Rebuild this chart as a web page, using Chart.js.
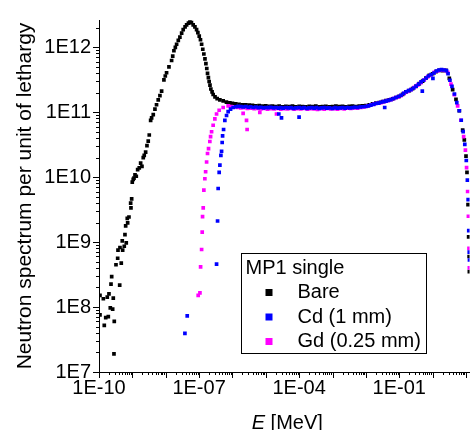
<!DOCTYPE html>
<html>
<head>
<meta charset="utf-8">
<script src="https://cdn.jsdelivr.net/npm/chart.js@4.4.1/dist/chart.umd.min.js"></script>
<style>
  html, body { margin: 0; padding: 0; background: #fff; }
  #chart { display: block; }
</style>
</head>
<body>
<canvas id="chart" width="470" height="430"></canvas>
<script>
// MP1 single - neutron spectrum per unit lethargy
const seriesNames = ['Bare', 'Cd (1 mm)', 'Gd (0.25 mm)'];
const seriesColors = ['#000000', '#0000ff', '#ff00ff'];
const legendTitle = 'MP1 single';

const xTickValues = [1e-10, 1e-7, 1e-4, 1e-1];
const xTickLabels = ['1E-10', '1E-07', '1E-04', '1E-01'];
const yTickValues = [1e7, 1e8, 1e9, 1e10, 1e11, 1e12];
const yTickLabels = ['1E7', '1E8', '1E9', '1E10', '1E11', '1E12'];

const bareE = [
  1.07e-10, 1.07e-10, 1.35e-10, 1.44e-10, 1.59e-10, 1.77e-10, 1.90e-10, 1.99e-10, 2.18e-10, 2.29e-10,
  2.40e-10, 2.57e-10, 2.68e-10, 2.81e-10, 2.87e-10, 3.23e-10, 3.63e-10, 3.71e-10, 4.17e-10, 4.25e-10,
  4.65e-10, 4.98e-10, 5.12e-10, 5.72e-10, 6.0e-10, 6.3e-10, 6.56e-10, 7.03e-10, 7.23e-10, 7.91e-10,
  8.89e-10, 9.08e-10, 9.53e-10, 9.93e-10, 1.06e-9, 1.12e-9, 1.20e-9, 1.31e-9, 1.44e-9, 1.61e-9,
  1.77e-9, 1.94e-9, 2.12e-9, 2.27e-9, 2.50e-9, 2.74e-9, 2.99e-9, 3.21e-9, 3.53e-9, 3.78e-9,
  4.23e-9, 4.75e-9, 5.3e-9, 5.96e-9, 6.7e-9, 7.53e-9, 8.83e-9, 9.7e-9, 1.06e-8, 1.25e-8,
  1.50e-8, 1.62e-8, 1.76e-8, 1.94e-8, 2.12e-8, 2.38e-8, 2.66e-8, 3.0e-8, 3.34e-8, 3.8e-8,
  4.23e-8, 4.8e-8, 5.31e-8, 5.9e-8, 6.65e-8, 7.5e-8, 8.41e-8, 9.2e-8, 1.01e-7, 1.10e-7,
  1.19e-7, 1.29e-7, 1.39e-7, 1.50e-7, 1.60e-7, 1.70e-7, 1.79e-7, 1.90e-7, 2.00e-7, 2.12e-7,
  2.25e-7, 2.45e-7, 2.64e-7, 3.0e-7, 3.48e-7, 4.2e-7, 5.27e-7, 6.6e-7, 8.36e-7,
  1.0e-6, 1.26e-6, 1.58e-6, 2.0e-6, 2.51e-6, 3.16e-6, 3.98e-6, 5.01e-6, 6.31e-6, 7.94e-6,
  1.0e-5, 1.26e-5, 1.58e-5, 2.0e-5, 2.51e-5, 3.16e-5, 3.98e-5, 5.01e-5, 6.31e-5, 7.94e-5,
  1.0e-4, 1.26e-4, 1.58e-4, 2.0e-4, 2.51e-4, 3.16e-4, 3.98e-4, 5.01e-4, 6.31e-4, 7.94e-4,
  1.0e-3, 1.26e-3, 1.58e-3, 2.0e-3, 2.51e-3, 3.16e-3, 3.98e-3, 5.01e-3, 6.31e-3, 7.94e-3,
  1.0e-2, 1.26e-2, 1.58e-2, 2.0e-2, 2.51e-2, 3.16e-2, 3.98e-2, 5.01e-2, 6.31e-2, 7.94e-2,
  0.1, 0.126, 0.158, 0.2, 0.251, 0.316, 0.398, 0.501, 0.631, 0.794,
  1.0, 1.26, 1.58, 2.0, 2.51, 3.16, 3.98, 5.01, 6.31, 7.94,
  8.9, 10.0, 10.7, 11.5, 12.0, 12.4, 12.6
];
const bareFlux = [
  1.51e8, 7.57e7, 1.34e8, 5.23e7, 6.89e7, 1.42e8, 7.13e7, 1.59e8, 9.73e7, 2.25e8,
  2.93e8, 9.3e7, 1.37e8, 1.9e7, 6.0e7, 4.48e8, 5.64e8, 7.51e8, 2.17e8, 8.24e8,
  4.75e8, 1.04e9, 7.51e8, 8.62e8, 1.30e9, 1.78e9, 9.7e8, 2.32e9, 1.97e9, 2.43e9,
  3.98e9, 3.35e9, 4.62e9, 8.39e9, 9.2e9, 9.63e9, 1.08e10, 1.03e10, 1.30e10, 1.39e10,
  1.64e10, 1.46e10, 1.99e10, 2.16e10, 2.42e10, 3.05e10, 3.57e10, 4.45e10, 7.46e10, 8.16e10,
  9.18e10, 1.11e11, 1.3e11, 1.54e11, 1.8e11, 2.10e11, 3.13e11, 3.6e11, 4.04e11, 4.97e11,
  6.24e11, 7.3e11, 8.81e11, 9.9e11, 1.11e12, 1.27e12, 1.43e12, 1.65e12, 1.86e12, 2.05e12,
  2.21e12, 2.35e12, 2.43e12, 2.38e12, 2.21e12, 2.05e12, 1.86e12, 1.68e12, 1.48e12, 1.3e12,
  1.11e12, 9.3e11, 7.85e11, 6.6e11, 5.57e11, 4.7e11, 3.94e11, 3.4e11, 2.96e11, 2.6e11,
  2.27e11, 2.05e11, 1.87e11, 1.72e11, 1.61e11, 1.54e11, 1.49e11, 1.43e11, 1.39e11,
  1.37e11, 1.34e11, 1.32e11, 1.30e11, 1.29e11, 1.28e11, 1.27e11, 1.25e11, 1.26e11, 1.24e11,
  1.25e11, 1.23e11, 1.24e11, 1.22e11, 1.24e11, 1.21e11, 1.23e11, 1.22e11, 1.24e11, 1.21e11,
  1.23e11, 1.22e11, 1.21e11, 1.23e11, 1.22e11, 1.24e11, 1.21e11, 1.22e11, 1.23e11, 1.21e11,
  1.22e11, 1.24e11, 1.22e11, 1.23e11, 1.21e11, 1.23e11, 1.24e11, 1.22e11, 1.24e11, 1.25e11,
  1.26e11, 1.30e11, 1.34e11, 1.38e11, 1.40e11, 1.45e11, 1.50e11, 1.55e11, 1.60e11, 1.68e11,
  1.75e11, 1.88e11, 2.05e11, 2.15e11, 2.30e11, 2.50e11, 2.75e11, 3.0e11, 3.35e11, 3.7e11,
  3.9e11, 4.2e11, 4.4e11, 4.35e11, 4.4e11, 3.3e11, 2.22e11, 1.57e11, 1.05e11, 5.29e10,
  3.74e10, 2.1e10, 1.18e10, 3.76e9, 1.2e9, 6.0e8, 3.5e8
];

const cdE = [
  3.76e-8, 4.41e-8, 3.34e-7, 3.58e-7, 3.73e-7, 4.0e-7, 4.2e-7, 4.5e-7, 4.72e-7, 4.92e-7,
  5.06e-7, 5.42e-7, 5.92e-7, 6.65e-7, 7.43e-7, 8.77e-7, 1.05e-6, 1.25e-6, 1.48e-6, 1.78e-6,
  2.1e-6, 2.5e-6, 3.0e-6, 3.5e-6, 4.2e-6, 5.0e-6, 6.0e-6, 7.1e-6, 8.5e-6, 1.0e-5,
  1.2e-5, 1.4e-5, 1.7e-5, 2.0e-5, 2.45e-5, 2.4e-5, 2.95e-5, 2.8e-5, 3.3e-5, 4.0e-5,
  4.7e-5, 5.6e-5, 6.7e-5, 8.0e-5, 9.93e-5, 1.0e-4, 1.2e-4, 1.4e-4, 1.7e-4, 2.0e-4,
  2.4e-4, 2.8e-4, 3.3e-4, 4.0e-4, 4.7e-4, 5.6e-4, 6.7e-4, 8.0e-4, 1.0e-3, 1.2e-3,
  1.4e-3, 1.7e-3, 2.0e-3, 2.4e-3, 2.8e-3, 3.3e-3, 4.0e-3, 4.7e-3, 5.6e-3, 6.7e-3,
  8.0e-3, 1.0e-2, 1.2e-2, 1.4e-2, 1.7e-2, 2.0e-2, 2.4e-2, 2.8e-2, 3.66e-2, 3.4e-2,
  4.0e-2, 4.7e-2, 5.6e-2, 6.7e-2, 8.0e-2, 9.5e-2, 0.113, 0.135, 0.16, 0.19,
  0.225, 0.27, 0.32, 0.38, 0.45, 0.49, 0.535, 0.64, 0.75, 0.9,
  1.02, 1.1, 1.3, 1.55, 1.85, 2.2, 2.6, 2.9, 3.3, 3.8,
  4.5, 5.3, 6.3, 7.2, 8.2, 9.2, 10.2, 11.0, 11.6, 12.1,
  12.5, 12.7
];
const cdFlux = [
  3.93e7, 7.31e7, 4.59e8, 2.11e9, 6.68e9, 1.18e10, 1.53e10, 2.16e10, 2.5e10, 3.41e10,
  4.3e10, 5.4e10, 7.46e10, 8.87e10, 1.02e11, 1.11e11, 1.18e11, 1.21e11, 1.23e11, 1.22e11,
  1.20e11, 1.22e11, 1.19e11, 1.21e11, 1.18e11, 1.20e11, 1.17e11, 1.19e11, 1.16e11, 1.18e11,
  1.17e11, 1.19e11, 1.16e11, 1.18e11, 9.37e10, 1.15e11, 8.16e10, 1.17e11, 1.15e11, 1.18e11,
  1.16e11, 1.17e11, 1.14e11, 1.16e11, 8.36e10, 1.17e11, 1.15e11, 1.17e11, 1.14e11, 1.16e11,
  1.17e11, 1.15e11, 1.17e11, 1.14e11, 1.16e11, 1.17e11, 1.15e11, 1.16e11, 1.14e11, 1.17e11,
  1.15e11, 1.16e11, 1.17e11, 1.15e11, 1.18e11, 1.16e11, 1.17e11, 1.19e11, 1.18e11, 1.20e11,
  1.21e11, 1.22e11, 1.25e11, 1.28e11, 1.32e11, 1.36e11, 1.38e11, 1.42e11, 1.18e11, 1.45e11,
  1.48e11, 1.52e11, 1.56e11, 1.62e11, 1.68e11, 1.74e11, 1.82e11, 1.95e11, 2.06e11, 2.14e11,
  2.22e11, 2.35e11, 2.52e11, 2.70e11, 2.92e11, 2.1e11, 3.1e11, 3.35e11, 3.6e11, 3.8e11,
  3.3e11, 4.0e11, 4.3e11, 4.45e11, 4.5e11, 4.45e11, 4.35e11, 3.9e11, 3.1e11, 2.5e11,
  1.9e11, 1.4e11, 1.05e11, 7.5e10, 5.0e10, 3.2e10, 1.8e10, 9.0e9, 4.5e9, 1.5e9,
  7.0e8, 5.3e8
];

const gdE = [
  9.4e-8, 1.06e-7, 1.11e-7, 1.19e-7, 1.24e-7, 1.27e-7, 1.33e-7, 1.39e-7, 1.49e-7, 1.57e-7,
  1.68e-7, 1.79e-7, 1.92e-7, 2.10e-7, 2.21e-7, 2.37e-7, 2.64e-7, 2.97e-7, 3.34e-7, 4.0e-7,
  5.27e-7, 7.43e-7, 9.0e-7, 1.12e-6, 1.41e-6, 1.78e-6, 2.09e-6, 2.24e-6, 2.64e-6, 2.75e-6,
  2.82e-6, 3.55e-6, 4.47e-6, 5.62e-6, 6.61e-6, 7.08e-6, 8.91e-6, 1.12e-5, 1.41e-5, 1.78e-5,
  2.09e-5, 2.24e-5, 2.82e-5, 3.55e-5, 4.47e-5, 5.62e-5, 7.08e-5, 8.91e-5, 1.12e-4, 1.41e-4,
  1.78e-4, 2.24e-4, 2.82e-4, 3.55e-4, 4.47e-4, 5.62e-4, 7.08e-4, 8.91e-4, 1.12e-3, 1.41e-3,
  1.78e-3, 2.24e-3, 2.82e-3, 3.55e-3, 4.47e-3, 5.62e-3, 7.08e-3, 8.91e-3, 1.12e-2, 1.41e-2,
  1.78e-2, 2.24e-2, 2.82e-2, 3.55e-2, 4.47e-2, 5.62e-2, 7.08e-2, 8.91e-2, 0.112, 0.141,
  0.178, 0.224, 0.282, 0.355, 0.447, 0.562, 0.708, 0.891, 1.12, 1.41,
  1.78, 2.24, 2.82, 3.55, 4.47, 5.62, 7.08, 8.5, 9.6, 10.4,
  11.2, 11.8, 12.3, 12.6
];
const gdFlux = [
  1.51e8, 1.65e8, 4.14e8, 7.69e8, 1.42e9, 2.46e9, 3.35e9, 6.3e9, 9.44e9, 1.21e10,
  1.71e10, 2.31e10, 2.75e10, 3.53e10, 4.2e10, 4.99e10, 6.28e10, 7.88e10, 9.37e10, 1.07e11,
  1.18e11, 1.25e11, 1.22e11, 1.20e11, 1.18e11, 1.16e11, 9.6e10, 1.17e11, 7.46e10, 5.4e10,
  1.14e11, 1.15e11, 1.13e11, 1.14e11, 9.93e10, 1.12e11, 1.14e11, 1.11e11, 1.13e11, 1.12e11,
  9.37e10, 1.14e11, 1.11e11, 1.13e11, 1.12e11, 1.14e11, 1.11e11, 1.13e11, 1.12e11, 1.14e11,
  1.11e11, 1.13e11, 1.12e11, 1.10e11, 1.13e11, 1.11e11, 1.14e11, 1.12e11, 1.13e11, 1.11e11,
  1.14e11, 1.12e11, 1.15e11, 1.14e11, 1.16e11, 1.15e11, 1.18e11, 1.20e11, 1.24e11, 1.29e11,
  1.33e11, 1.37e11, 1.40e11, 1.45e11, 1.50e11, 1.56e11, 1.63e11, 1.70e11, 1.80e11, 1.95e11,
  2.08e11, 2.22e11, 2.40e11, 2.60e11, 2.85e11, 3.15e11, 3.5e11, 3.75e11, 4.1e11, 4.3e11,
  4.45e11, 4.4e11, 4.1e11, 2.7e11, 1.85e11, 1.25e11, 7.5e10, 4.2e10, 2.6e10, 1.4e10,
  6.0e9, 2.5e9, 8.0e8, 4.0e8
];

const FONT = "'Liberation Sans', Arial, sans-serif";

function toPoints(xs, ys) {
  return xs.map((x, i) => ({ x: x, y: ys[i] }));
}

// every decade plus 2..9 sub-ticks inside [min, max]
function logTicks(min, max) {
  const out = [];
  for (let e = Math.floor(Math.log10(min)); e <= Math.ceil(Math.log10(max)); e++) {
    for (let m = 1; m <= 9; m++) {
      const v = m * Math.pow(10, e);
      if (v >= min * 0.999 && v <= max * 1.001) out.push({ value: v, major: m === 1 });
    }
  }
  return out;
}

function labelFor(value, values, labels) {
  for (let i = 0; i < values.length; i++) {
    if (Math.abs(value / values[i] - 1) < 1e-6) return labels[i];
  }
  return '';
}

const tickMarks = {
  id: 'tickMarks',
  afterDraw(chart) {
    const ctx = chart.ctx;
    const xs = chart.scales.x, ys = chart.scales.y;
    ctx.save();
    ctx.strokeStyle = '#000';
    ctx.lineWidth = 1;
    ctx.beginPath();
    logTicks(xs.min, xs.max).forEach(t => {
      const p = Math.round(xs.getPixelForValue(t.value)) + 0.5;
      const len = t.major ? 6 : 3;
      ctx.moveTo(p, xs.top);
      ctx.lineTo(p, xs.top + len);
    });
    logTicks(ys.min, ys.max).forEach(t => {
      const p = Math.round(ys.getPixelForValue(t.value)) + 0.5;
      const len = t.major ? 6 : 3;
      ctx.moveTo(ys.right, p);
      ctx.lineTo(ys.right - len, p);
    });
    ctx.stroke();

    // x title with italic E
    const area = chart.chartArea;
    ctx.fillStyle = '#000';
    ctx.textBaseline = 'alphabetic';
    ctx.font = 'italic 20px ' + FONT;
    const a = 'E';
    const wa = ctx.measureText(a).width;
    ctx.font = '20px ' + FONT;
    const b = ' [MeV]';
    const wb = ctx.measureText(b).width;
    const x0 = (area.left + area.right) / 2 - (wa + wb) / 2 + 3;
    ctx.font = 'italic 20px ' + FONT;
    ctx.fillText(a, x0, 429);
    ctx.font = '20px ' + FONT;
    ctx.fillText(b, x0 + wa, 429);
    ctx.restore();
  }
};

const boxLegend = {
  id: 'boxLegend',
  afterDraw(chart) {
    const ctx = chart.ctx;
    const area = chart.chartArea;
    const w = 185, h = 100;
    const left = Math.round(area.right - 44 - w) + 0.5;
    const top = Math.round(area.bottom - 19 - h) + 0.5;
    ctx.save();
    ctx.fillStyle = '#fff';
    ctx.fillRect(left, top, w, h);
    ctx.strokeStyle = '#000';
    ctx.lineWidth = 1;
    ctx.strokeRect(left, top, w, h);
    ctx.font = '20px ' + FONT;
    ctx.textBaseline = 'middle';
    ctx.fillStyle = '#000';
    ctx.fillText(legendTitle, left + 4, top + 15);
    seriesNames.forEach((name, i) => {
      const cy = top + 39 + i * 24.5;
      ctx.fillStyle = seriesColors[i];
      ctx.fillRect(left + 24, cy - 3.5, 7, 7);
      ctx.fillStyle = '#000';
      ctx.fillText(name, left + 56, cy);
    });
    ctx.restore();
  }
};

function initChart() {
  const ctx = document.getElementById('chart').getContext('2d');
  const sets = [toPoints(bareE, bareFlux), toPoints(cdE, cdFlux), toPoints(gdE, gdFlux)];
  const drawOrder = [2, 0, 1];

  new Chart(ctx, {
    type: 'scatter',
    data: {
      datasets: sets.map((pts, i) => ({
        label: seriesNames[i],
        data: pts,
        order: drawOrder[i],
        pointStyle: 'rect',
        pointRadius: 2.6,
        pointBorderWidth: 0,
        backgroundColor: seriesColors[i],
        borderColor: seriesColors[i]
      }))
    },
    options: {
      responsive: false,
      animation: false,
      devicePixelRatio: 1,
      layout: { autoPadding: false, padding: { top: 10, right: 0, left: 0, bottom: 0 } },
      plugins: { legend: { display: false }, tooltip: { enabled: false } },
      scales: {
        x: {
          type: 'logarithmic',
          min: 1e-10,
          max: 12.8,
          bounds: 'data',
          grid: { display: false, drawTicks: false, tickLength: 0 },
          border: { display: true, color: '#000', width: 1 },
          afterBuildTicks: s => { s.ticks = logTicks(1e-10, 12.8); },
          afterFit: s => { s.height = 58; },
          ticks: {
            autoSkip: false, maxRotation: 0, minRotation: 0, padding: 4,
            color: '#000', font: { family: FONT, size: 20 },
            callback: v => labelFor(v, xTickValues, xTickLabels)
          },
          title: { display: false }
        },
        y: {
          type: 'logarithmic',
          min: 1e7,
          max: 2.62e12,
          bounds: 'data',
          grid: { display: false, drawTicks: false, tickLength: 0 },
          border: { display: true, color: '#000', width: 1 },
          afterBuildTicks: s => { s.ticks = logTicks(1e7, 2.62e12); },
          afterFit: s => { s.width = 99; },
          ticks: {
            autoSkip: false, padding: 8,
            color: '#000', font: { family: FONT, size: 20 },
            callback: v => labelFor(v, yTickValues, yTickLabels)
          },
          title: {
            display: true,
            text: 'Neutron spectrum per unit of lethargy',
            color: '#000',
            font: { family: FONT, size: 21 },
            padding: { top: 13, bottom: 0 }
          }
        }
      }
    },
    plugins: [tickMarks, boxLegend]
  });
}

window.onload = initChart;
</script>
</body>
</html>
